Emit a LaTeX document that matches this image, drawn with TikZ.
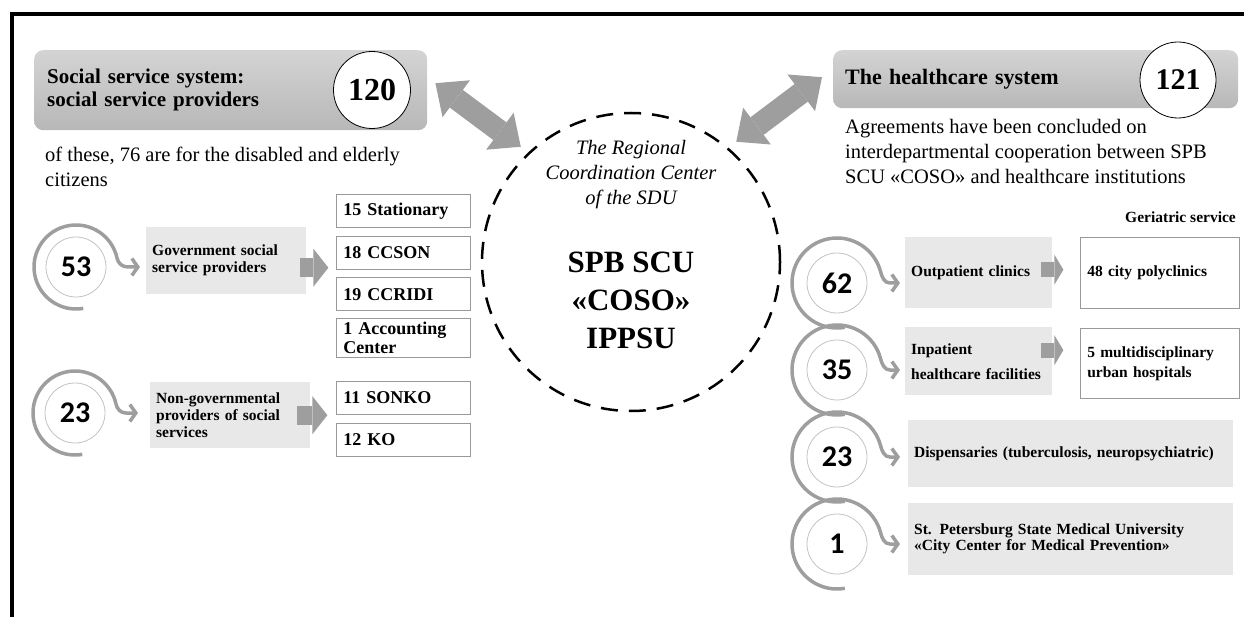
\documentclass[tikz,border=0pt]{standalone}
\usepackage{fontspec}
\setmainfont{Liberation Serif}
\newfontfamily\numfont{Carlito}
\usepackage{tikz}
\usetikzlibrary{arrows.meta, positioning, calc}

\definecolor{boxgray}{RGB}{232,232,232}
\definecolor{linkgray}{RGB}{158,158,158}
\definecolor{ringgray}{RGB}{195,195,195}

\tikzset{
  hdr/.style={rounded corners=9pt, top color=black!17, bottom color=black!28, draw=none,
    anchor=north west, inner xsep=12pt, align=left, font=\bfseries\fontsize{21}{23}\selectfont},
  numbig/.style={circle, draw=black, line width=0.8pt, fill=white, inner sep=0pt,
    font=\bfseries\fontsize{32}{32}\selectfont},
  numring/.style={circle, draw=ringgray, line width=0.8pt, fill=white, minimum size=60pt,
    inner sep=0pt, font=\numfont\bfseries\fontsize{30}{30}\selectfont},
  swirl/.style={draw=linkgray, line width=3.5pt, -{Straight Barb[length=6pt, width=17pt]}},
  graybox/.style={fill=boxgray, anchor=north west, inner xsep=6pt, align=left,
    font=\bfseries\fontsize{15.5}{17}\selectfont},
  whitebox/.style={draw=black!40, line width=0.7pt, fill=white, anchor=north west,
    inner xsep=7pt, align=left, font=\bfseries\fontsize{18}{20}\selectfont},
  blockarrow/.style={draw=linkgray, line width=19pt, -{Triangle[length=15pt, width=38pt, line width=0pt]}},
  twoway/.style={draw=linkgray, line width=22pt,
    {Triangle[length=26pt, width=46pt, line width=0pt]}-{Triangle[length=26pt, width=46pt, line width=0pt]}},
  bodytxt/.style={anchor=north west, inner sep=0pt, align=left, font=\fontsize{20.5}{25}\selectfont},
}

\begin{document}
\begin{tikzpicture}[x=1pt, y=1pt]
  \useasboundingbox (0,0) rectangle (1244,-617);
  \draw[line width=4pt] (12,-617) -- (12,-14) -- (1244,-14);

  % headers
  \node[hdr, minimum width=393pt, minimum height=80pt, text width=367pt] (hdrL) at (34,-50)
    {Social service system:\\social service providers};
  \node[numbig, minimum size=77pt] (n120) at (372,-90) {120};
  \node[hdr, minimum width=405pt, minimum height=58pt, text width=381pt,
    font=\bfseries\fontsize{22}{24}\selectfont] (hdrR) at (833,-50) {The healthcare system};
  \node[numbig, minimum size=76pt, font=\bfseries\fontsize{30}{30}\selectfont] (n121) at (1178,-80) {121};

  \node[bodytxt] (noteL) at (45,-147) {of these, 76 are for the disabled and elderly\\citizens};
  \node[bodytxt] (noteR) at (845,-119)
    {Agreements have been concluded on\\interdepartmental cooperation between SPB\\SCU «COSO» and healthcare institutions};

  % center
  \node[circle, draw, line width=2.5pt, dash pattern=on 17pt off 11pt, minimum size=298pt] (core) at (631,-262) {};
  \node[font=\itshape\fontsize{20.5}{25}\selectfont, align=center] (coreT) at (631,-175)
    {The Regional\\Coordination Center\\of the SDU};
  \node[font=\bfseries\fontsize{31}{38}\selectfont, align=center] (coreN) at (631,-300)
    {SPB SCU\\«COSO»\\IPPSU};

  \draw[twoway] ($(hdrL.east)+(8,7)$) -- ($(core.north west)+(-4,9)$);
  \draw[twoway] ($(hdrR.west)+(-11,2)$) -- ($(core.north east)+(-1,14)$);

  % left rows
  \node[numring] (n53) at (76,-267) {53};
  \node[graybox, minimum width=160pt, minimum height=67pt, text width=148pt] (govL) at (146,-227)
    {Government social\\service providers};
  \node[whitebox, minimum width=134pt, minimum height=33pt, text width=120pt] (st15) at (336,-194) {15 Stationary};
  \node[whitebox, minimum width=134pt, minimum height=33pt, text width=120pt, below=8pt of st15] (st18) {18 CCSON};
  \node[whitebox, minimum width=134pt, minimum height=33pt, text width=120pt, below=8pt of st18] (st19) {19 CCRIDI};
  \node[whitebox, minimum width=134pt, minimum height=39pt, text width=120pt, inner ysep=1pt,
    font=\bfseries\fontsize{18}{19}\selectfont, below=7pt of st19] (st1) {1 Accounting\\Center};

  \node[numring] (n23L) at (75,-413) {23};
  \node[graybox, minimum width=160pt, minimum height=66pt, text width=148pt] (ngoL) at (150,-382)
    {Non-governmental\\providers of social\\services};
  \node[whitebox, minimum width=134pt, minimum height=33pt, text width=120pt] (so11) at (336,-381) {11 SONKO};
  \node[whitebox, minimum width=134pt, minimum height=33pt, text width=120pt, below=8pt of so11] (ko12) {12 KO};

  \coordinate (t53) at ($(govL.west |- n53)+(-6,0)$);
  \coordinate (t23L) at ($(ngoL.west |- n23L)+(-12,0)$);
  \foreach \n/\t in {n53/t53, n23L/t23L}
    \draw[swirl] ([shift={(280:42)}]\n.center) arc[start angle=280, end angle=12, radius=42]
      to[out=-78, in=180] ([xshift=-12pt]\t) -- (\t);

  \draw[blockarrow] ([yshift=-7pt, xshift=-6pt]govL.east) -- ([yshift=-7pt, xshift=22pt]govL.east);
  \draw[blockarrow] ([xshift=-13pt]ngoL.east) -- ([xshift=17pt]ngoL.east);

  % right rows
  \node[font=\bfseries\fontsize{15.5}{17}\selectfont, anchor=east, inner sep=0pt] (geri) at (1236,-217) {Geriatric service};
  \node[numring] (n62) at (837,-283) {62};
  \node[numring] (n35) at (837,-370) {35};
  \node[numring] (n23R) at (837,-457) {23};
  \node[numring] (n1) at (837,-544) {1};

  \node[graybox, minimum width=147pt, minimum height=71pt, text width=135pt] (outp) at (905,-237) {Outpatient clinics\\[6pt]};
  \node[whitebox, minimum width=159pt, minimum height=71pt, text width=145pt,
    font=\bfseries\fontsize{15.5}{17}\selectfont] (poly) at (1080,-237) {48 city polyclinics};
  \node[graybox, minimum width=147pt, minimum height=68pt, text width=135pt,
    font=\bfseries\fontsize{15.5}{25}\selectfont] (inp) at (905,-327) {Inpatient\\healthcare facilities};
  \node[whitebox, minimum width=159pt, minimum height=70pt, text width=145pt,
    font=\bfseries\fontsize{15.5}{20}\selectfont] (hosp) at (1080,-328) {5 multidisciplinary\\urban hospitals};
  \node[graybox, minimum width=325pt, minimum height=67pt, text width=313pt] (disp) at (908,-420)
    {Dispensaries (tuberculosis, neuropsychiatric)};
  \node[graybox, minimum width=325pt, minimum height=72pt, text width=313pt,
    font=\bfseries\fontsize{15.5}{16}\selectfont] (spbu) at (908,-503)
    {St. Petersburg State Medical University\\«City Center for Medical Prevention»};

  \coordinate (t62) at ($(outp.west |- n62)+(-5,0)$);
  \coordinate (t35) at ($(inp.west |- n35)+(-5,0)$);
  \coordinate (t23R) at ($(disp.west |- n23R)+(-8,0)$);
  \coordinate (t1) at ($(spbu.west |- n1)+(-8,0)$);
  \foreach \n/\t in {n62/t62, n35/t35, n23R/t23R, n1/t1}
    \draw[swirl] ([shift={(280:45)}]\n.center) arc[start angle=280, end angle=15, radius=45]
      to[out=-75, in=180] ([xshift=-10pt]\t) -- (\t);

  \draw[blockarrow, line width=15pt, -{Triangle[length=9pt, width=30pt, line width=0pt]}]
    ([yshift=3pt, xshift=-11pt]outp.east) -- ([yshift=3pt, xshift=11pt]outp.east);
  \draw[blockarrow, line width=15pt, -{Triangle[length=9pt, width=30pt, line width=0pt]}]
    ([yshift=11pt, xshift=-11pt]inp.east) -- ([yshift=11pt, xshift=11pt]inp.east);
\end{tikzpicture}
\end{document}
